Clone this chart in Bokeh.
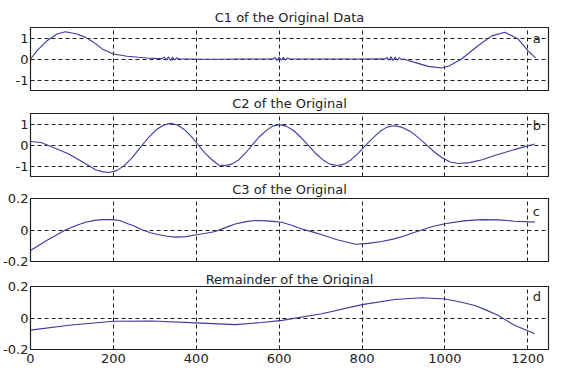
from bokeh.plotting import figure
from bokeh.layouts import column
from bokeh.models import FixedTicker, Range1d, Label
from bokeh.embed import file_html
from bokeh.resources import INLINE

# ---------------- data ----------------
c1_x = [0, 16, 40, 64, 84, 112, 133, 153, 173, 200, 233, 260, 281, 300, 318,
        323, 328, 333, 338, 343, 348, 353, 358, 380, 420, 460, 500, 540, 585,
        590, 595, 600, 605, 610, 615, 620, 625, 650, 700, 750, 800, 840, 855,
        860, 865, 870, 875, 880, 885, 890, 895, 900, 927, 960, 991, 1010, 1040,
        1080, 1113, 1145, 1177, 1200, 1219]
c1_y = [0.0, 0.4, 0.87, 1.19, 1.3, 1.19, 1.03, 0.79, 0.48, 0.24, 0.13, 0.08, 0.05, 0.03, 0.02,
        0.09, -0.06, 0.1, -0.07, 0.09, -0.05, 0.06, 0.0, 0.0, -0.01, -0.01, 0.0, 0.0, 0.0,
        0.08, -0.07, 0.09, -0.06, 0.08, -0.05, 0.05, 0.0, 0.0, 0.0, 0.0, 0.0, 0.01, 0.0,
        0.08, -0.06, 0.1, -0.07, 0.09, -0.06, 0.07, -0.03, 0.0, -0.16, -0.35, -0.43, -0.33, 0.0,
        0.63, 1.1, 1.27, 0.95, 0.4, 0.05]

c2_x = [0, 25, 52, 90, 125, 157, 175, 190, 208, 227, 246, 264, 283, 301, 320, 338,
        354, 371, 388, 404, 420, 437, 454, 470, 486, 503, 519, 535, 551, 568, 584, 600,
        617, 635, 652, 670, 687, 705, 722, 740, 757, 774, 791, 808, 826, 843, 860, 877,
        896, 916, 935, 955, 974, 994, 1013, 1033, 1060, 1090, 1120, 1150, 1180, 1217]
c2_y = [0.17, 0.12, -0.1, -0.4, -0.8, -1.18, -1.28, -1.31, -1.22, -0.97, -0.59, -0.14, 0.31, 0.69, 0.94, 1.03,
        0.95, 0.74, 0.41, 0.025, -0.36, -0.69, -0.95, -0.98, -0.91, -0.70, -0.38, -0.005, 0.37, 0.67, 0.90, 0.97,
        0.90, 0.69, 0.37, -0.005, -0.38, -0.70, -0.91, -0.98, -0.91, -0.70, -0.39, -0.03, 0.33, 0.64, 0.85, 0.92,
        0.85, 0.66, 0.36, 0.02, -0.32, -0.62, -0.81, -0.88, -0.84, -0.70, -0.50, -0.32, -0.15, 0.05]

c3_x = [0, 40, 84, 110, 133, 155, 173, 197, 215, 230, 250, 269, 290, 310, 330, 350, 375, 397, 420, 446, 470,
        494, 520, 543, 570, 591, 606, 630, 655, 680, 703, 740, 784, 815, 847, 875, 900, 920, 944, 970, 1000,
        1045, 1088, 1130, 1168, 1217]
c3_y = [-0.13, -0.065, 0.0, 0.028, 0.049, 0.061, 0.066, 0.066, 0.06, 0.045, 0.025, 0.002, -0.018, -0.03, -0.04,
        -0.045, -0.042, -0.032, -0.022, -0.009, 0.015, 0.038, 0.053, 0.06, 0.058, 0.053, 0.049, 0.03, 0.006,
        -0.012, -0.03, -0.062, -0.09, -0.085, -0.073, -0.058, -0.04, -0.02, 0.0, 0.022, 0.04, 0.058, 0.066,
        0.064, 0.056, 0.05]

c4_x = [0, 93, 200, 293, 400, 494, 558, 607, 703, 800, 879, 944, 1000, 1040, 1072, 1100, 1128, 1168, 1217]
c4_y = [-0.077, -0.046, -0.021, -0.019, -0.031, -0.042, -0.029, -0.015, 0.027, 0.085, 0.117, 0.129, 0.121,
        0.1, 0.079, 0.05, 0.017, -0.046, -0.10]

titles = ["C1 of the Original Data", "C2 of the Original", "C3 of the Original", "Remainder of the Original"]
tags = ["a", "b", "c", "d"]
x_ticks = [0, 200, 400, 600, 800, 1000, 1200]
y_ticks_big = [-1, 0, 1]
y_labels_big = {-1: "-1", 0: "0", 1: "1"}
y_ticks_small = [-0.2, 0, 0.2]
y_labels_small = {-0.2: "-0.2", 0: "0", 0.2: "0.2"}

FONT = "DejaVu Sans"
LINE = "#3b3b9e"

series = [(c1_x, c1_y), (c2_x, c2_y), (c3_x, c3_y), (c4_x, c4_y)]
yranges = [(-1.5, 1.5), (-1.5, 1.5), (-0.2, 0.2), (-0.2, 0.2)]
yticks = [y_ticks_big, y_ticks_big, y_ticks_small, y_ticks_small]
ylabels = [y_labels_big, y_labels_big, y_labels_small, y_labels_small]
tag_pos = [(1212, 1.0), (1212, 0.93), (1212, 0.116), (1212, 0.137)]
heights = [91, 86, 92, 107]
tops = [27, 22, 21, 17]
bottoms = [1, 1, 8, 27]
standoffs = [6, 5, 4, 0]

figs = []
for i in range(4):
    last = (i == 3)
    p = figure(width=563, height=heights[i], output_backend="svg", toolbar_location=None,
               x_range=Range1d(0, 1250), y_range=Range1d(*yranges[i]),
               min_border_left=28, min_border_right=15, min_border_top=tops[i],
               min_border_bottom=bottoms[i])
    p.title.text = titles[i]
    p.title.align = "center"
    p.title.text_font = FONT
    p.title.text_font_size = "13px"
    p.title.text_font_style = "normal"
    p.title.text_color = "#222222"
    p.title.standoff = standoffs[i]
    p.title.offset = 0
    p.line(series[i][0], series[i][1], line_color=LINE, line_width=1.1)

    p.outline_line_color = "#222222"
    p.outline_line_width = 1.2
    p.background_fill_color = "white"
    p.border_fill_color = "white"

    p.xaxis.ticker = FixedTicker(ticks=x_ticks)
    p.yaxis.ticker = FixedTicker(ticks=yticks[i])
    p.yaxis.major_label_overrides = ylabels[i]
    for ax in (p.xaxis, p.yaxis):
        ax.axis_line_color = None
        ax.major_tick_in = 4
        ax.major_tick_out = 0
        ax.minor_tick_line_color = None
        ax.major_tick_line_color = "#222222"
        ax.major_label_text_font = FONT
        ax.major_label_text_font_size = "13px"
        ax.major_label_text_color = "#222222"
    p.yaxis.major_label_standoff = 2
    p.xaxis.major_label_standoff = 4
    if not last:
        p.xaxis.visible = False

    p.xgrid.grid_line_color = "#222222"
    p.ygrid.grid_line_color = "#222222"
    p.xgrid.grid_line_dash = "4 3"
    p.ygrid.grid_line_dash = "4 3"
    p.xgrid.grid_line_width = 1
    p.ygrid.grid_line_width = 1

    p.add_layout(Label(x=tag_pos[i][0], y=tag_pos[i][1], text=tags[i], text_font=FONT,
                       text_font_size="13px", text_baseline="middle", text_align="left",
                       text_color="#222222"))
    figs.append(p)

layout = column(*figs, spacing=0)
open("out.html", "w").write(file_html(layout, INLINE))
